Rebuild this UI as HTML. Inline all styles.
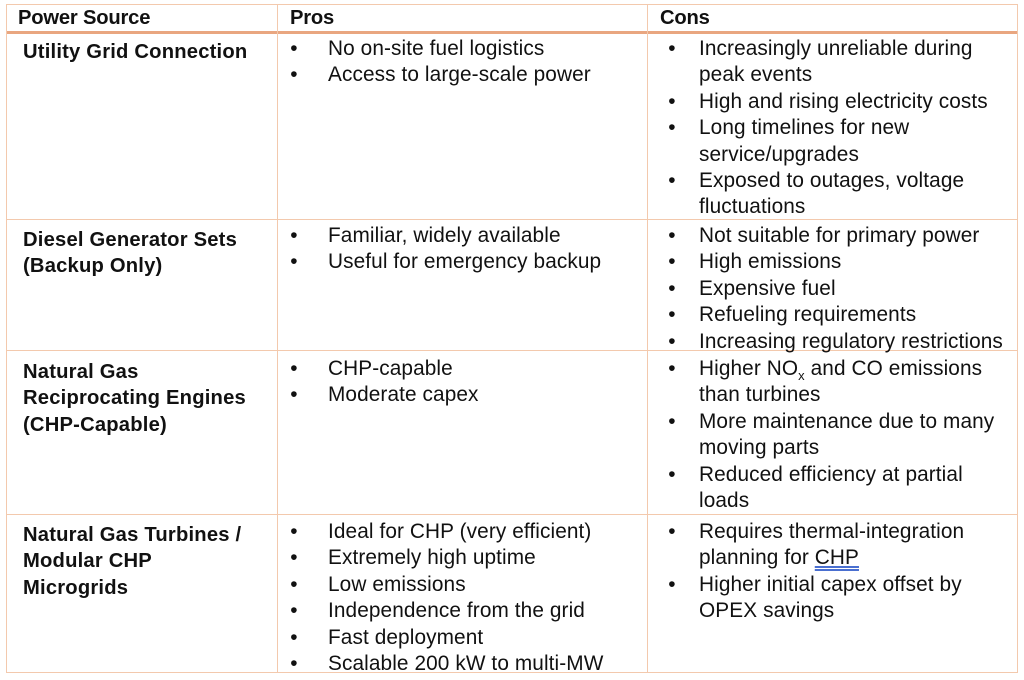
<!DOCTYPE html>
<html><head><meta charset="utf-8"><style>
body{margin:0;width:1024px;height:680px;background:#fff;position:relative;font-family:"Liberation Sans",sans-serif;color:#111;overflow:hidden}
.l{position:absolute;background:#f3c9ad}
.t{position:absolute;font-size:20.8px;line-height:26.4px;white-space:nowrap;letter-spacing:0.1px}
.b{font-weight:bold;font-size:20.2px;letter-spacing:0.2px}
.h{letter-spacing:-0.2px}
ul{margin:0;padding:0;list-style:none}
li{position:relative;padding-left:34px}
.p li{padding-left:41px}
li:before{content:"•";position:absolute;left:0;width:14px;text-align:center}
u{text-decoration:underline double #4a6fd0}
sub{font-size:13px;line-height:0}
</style></head><body>
<div class="l" style="left:6px;top:4px;width:1012px;height:1px"></div>
<div class="l" style="left:6px;top:31px;width:1012px;height:3px;background:#e9a680"></div>
<div class="l" style="left:6px;top:219px;width:1012px;height:1px"></div>
<div class="l" style="left:6px;top:350px;width:1012px;height:1px"></div>
<div class="l" style="left:6px;top:514px;width:1012px;height:1px"></div>
<div class="l" style="left:6px;top:672px;width:1012px;height:1px"></div>
<div class="l" style="left:6px;top:4px;width:1px;height:669px"></div>
<div class="l" style="left:277px;top:4px;width:1px;height:669px"></div>
<div class="l" style="left:647px;top:4px;width:1px;height:669px"></div>
<div class="l" style="left:1017px;top:4px;width:1px;height:669px"></div>

<div class="t b h" style="left:18px;top:5px">Power Source</div>
<div class="t b h" style="left:290px;top:5px">Pros</div>
<div class="t b h" style="left:660px;top:5px">Cons</div>

<div class="t b" style="left:23px;top:39px">Utility Grid Connection</div>
<div class="t p" style="left:287px;top:36px"><ul><li>No on-site fuel logistics</li><li>Access to large-scale power</li></ul></div>
<div class="t" style="left:665px;top:36px"><ul><li>Increasingly unreliable during<br>peak events</li><li>High and rising electricity costs</li><li>Long timelines for new<br>service/upgrades</li><li>Exposed to outages, voltage<br>fluctuations</li></ul></div>

<div class="t b" style="left:23px;top:227px">Diesel Generator Sets<br>(Backup Only)</div>
<div class="t p" style="left:287px;top:223px"><ul><li>Familiar, widely available</li><li>Useful for emergency backup</li></ul></div>
<div class="t" style="left:665px;top:223px"><ul><li>Not suitable for primary power</li><li>High emissions</li><li>Expensive fuel</li><li>Refueling requirements</li><li>Increasing regulatory restrictions</li></ul></div>

<div class="t b" style="left:23px;top:359px">Natural Gas<br>Reciprocating Engines<br>(CHP-Capable)</div>
<div class="t p" style="left:287px;top:356px"><ul><li>CHP-capable</li><li>Moderate capex</li></ul></div>
<div class="t" style="left:665px;top:356px"><ul><li>Higher NO<sub>x</sub> and CO emissions<br>than turbines</li><li>More maintenance due to many<br>moving parts</li><li>Reduced efficiency at partial<br>loads</li></ul></div>

<div class="t b" style="left:23px;top:522px">Natural Gas Turbines /<br>Modular CHP<br>Microgrids</div>
<div class="t p" style="left:287px;top:519px"><ul><li>Ideal for CHP (very efficient)</li><li>Extremely high uptime</li><li>Low emissions</li><li>Independence from the grid</li><li>Fast deployment</li><li>Scalable 200 kW to multi-MW</li></ul></div>
<div class="t" style="left:665px;top:519px"><ul><li>Requires thermal-integration<br>planning for <u>CHP</u></li><li>Higher initial capex offset by<br>OPEX savings</li></ul></div>
</body></html>
